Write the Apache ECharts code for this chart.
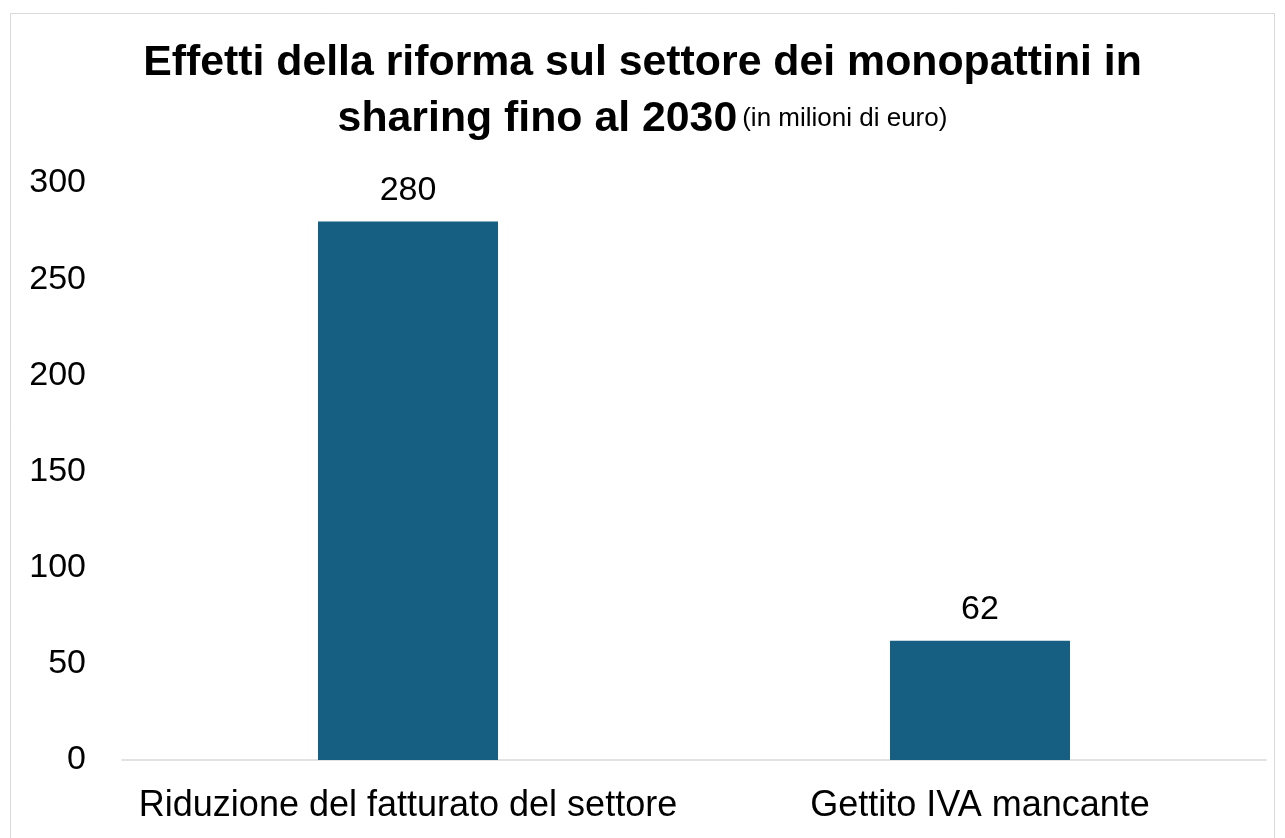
<!DOCTYPE html>
<html><head><meta charset="utf-8">
<script src="https://cdn.jsdelivr.net/npm/echarts@6/dist/echarts.min.js"></script>
<style>html,body{margin:0;padding:0;background:#fff}#c{width:1285px;height:838px}</style>
</head><body><div id="c"></div>
<script>
const categories = ["Riduzione del fatturato del settore", "Gettito IVA mancante"];
const values = [280, 62];
const yTicks = [0, 50, 100, 150, 200, 250, 300];

const chart = echarts.init(document.getElementById('c'), null, {renderer: 'canvas'});
const FONT = '"Liberation Sans", Arial, sans-serif';
chart.setOption({
  backgroundColor: '#fff',
  animation: false,
  graphic: [{
    type: 'rect', shape: {x: 10.5, y: 13.5, width: 1264, height: 840},
    style: {fill: 'none', stroke: '#d9d9d9', lineWidth: 1}, silent: true
  }],
  title: {
    text: '{b|Effetti della riforma sul settore dei monopattini in}\n{b|sharing fino al 2030} {s|(in milioni di euro)}',
    left: 'center', top: 30,
    textStyle: {
      rich: {
        b: {fontFamily: FONT, fontWeight: 'bold', fontSize: 42.8, color: '#000', lineHeight: 56},
        s: {fontFamily: FONT, fontWeight: 'normal', fontSize: 26, color: '#000', lineHeight: 56}
      }
    }
  },
  grid: {left: 122, right: 19, top: 183, bottom: 78, containLabel: false},
  xAxis: {
    type: 'category', data: categories,
    axisLine: {lineStyle: {color: '#d9d9d9', width: 1.5}},
    axisTick: {show: false},
    axisLabel: {interval: 0, fontFamily: FONT, fontSize: 36, color: '#000', margin: 28}
  },
  yAxis: {
    type: 'value', min: 0, max: 300, interval: 50,
    axisLine: {show: false}, axisTick: {show: false}, splitLine: {show: false},
    axisLabel: {fontFamily: FONT, fontSize: 34, color: '#000', margin: 36,
      formatter: v => yTicks.includes(v) ? String(v) : ''}
  },
  series: [{
    type: 'bar', data: values, barWidth: 180,
    itemStyle: {color: '#175F82'},
    label: {show: true, position: 'top', distance: 14, fontFamily: FONT, fontSize: 34, color: '#000'}
  }]
});
</script></body></html>
